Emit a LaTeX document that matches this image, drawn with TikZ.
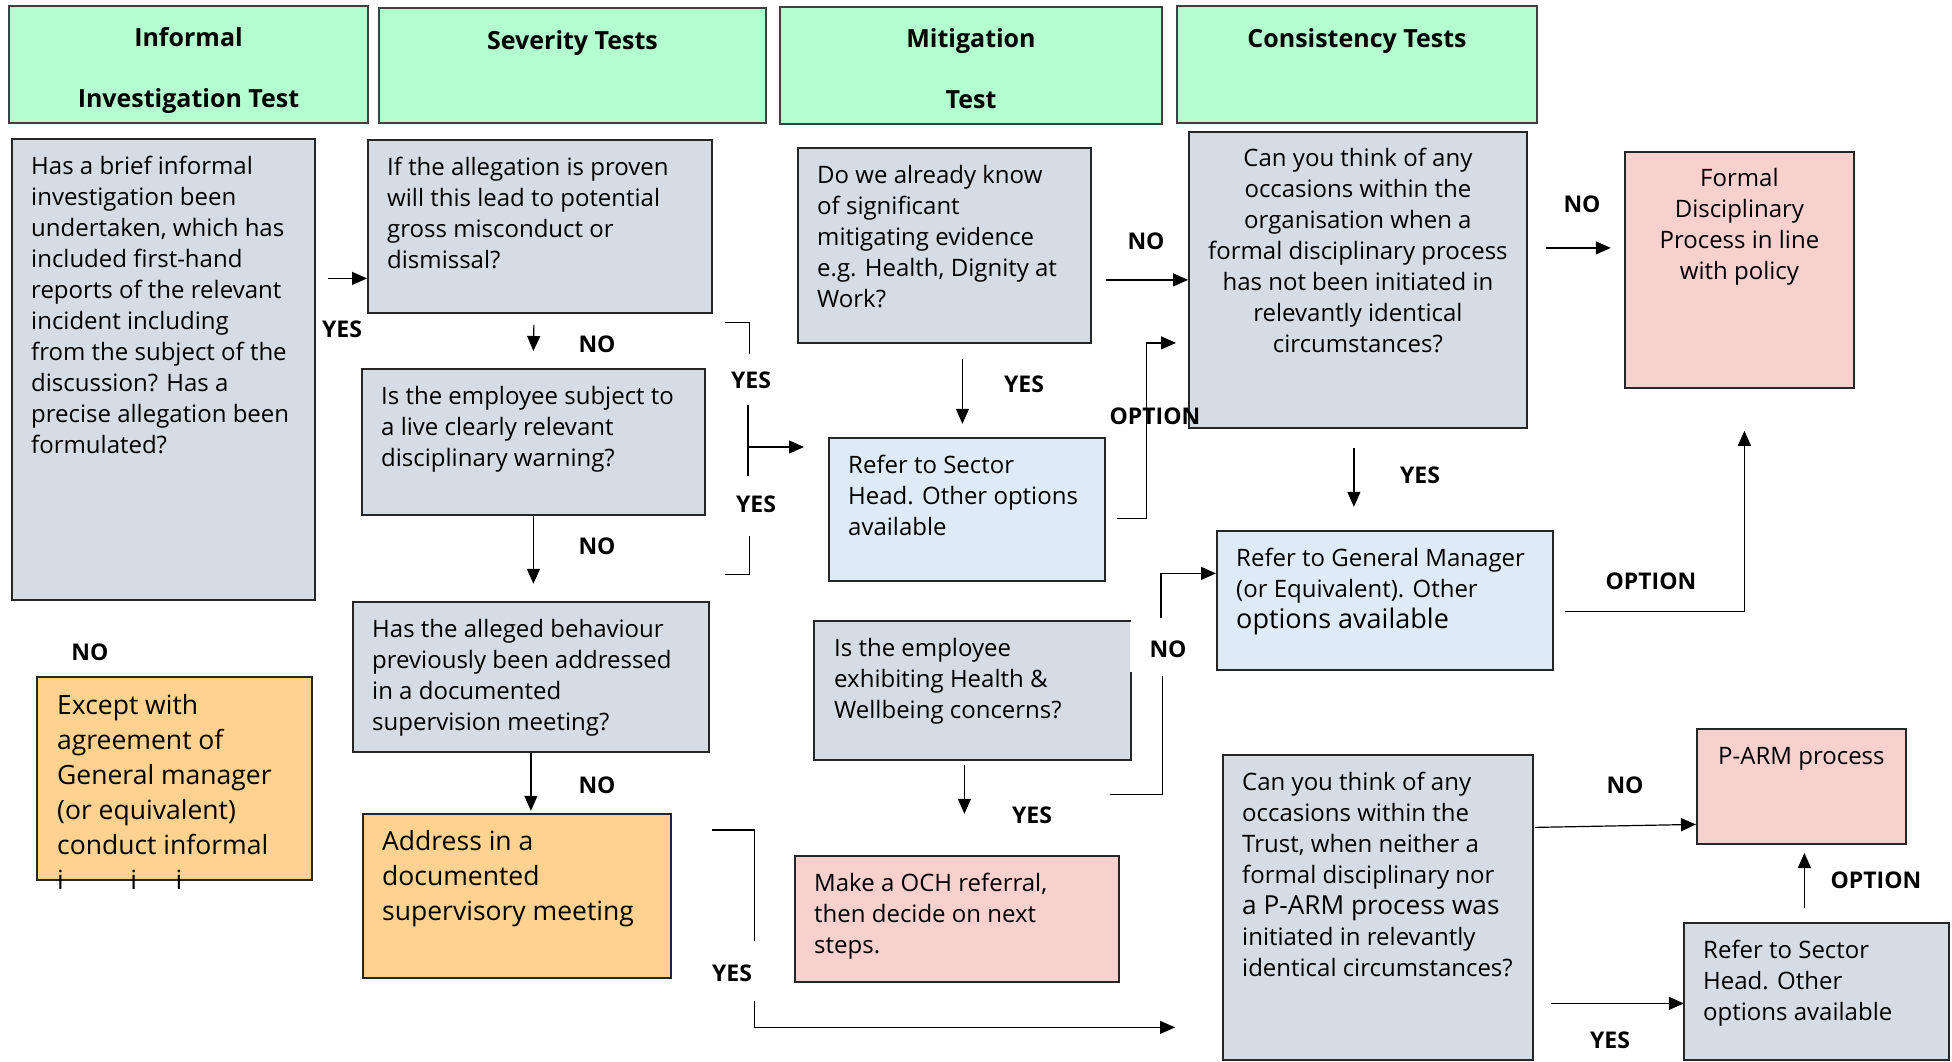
\documentclass[tikz,border=0pt]{standalone}
\usepackage{fontspec}
\setmainfont{Open Sans}
\usetikzlibrary{arrows.meta}

\definecolor{hdrgreen}{RGB}{180,255,208}
\definecolor{qgray}{RGB}{214,220,228}
\definecolor{refblue}{RGB}{222,235,247}
\definecolor{endpink}{RGB}{248,208,206}
\definecolor{actorange}{RGB}{255,210,143}

\newcommand\boxfont{\fontsize{24}{31}\selectfont}
\newcommand\bigboxfont{\fontsize{26.5}{35}\selectfont}
\newcommand\hdrfont{\fontsize{25}{61}\selectfont\bfseries}
\newcommand\lblfont{\fontsize{23}{28}\selectfont\bfseries}

\tikzset{
  box/.style={draw=black!85, line width=1.8pt, anchor=north west, inner sep=0pt},
  hdr/.style={box, fill=hdrgreen, draw=black!75, line width=2pt},
  qbox/.style={box, fill=qgray},
  rbox/.style={box, fill=refblue},
  pbox/.style={box, fill=endpink},
  obox/.style={box, fill=actorange},
  btxt/.style={anchor=north west, align=left, inner sep=0pt, font=\boxfont},
  ctxt/.style={anchor=north, align=center, inner sep=0pt, font=\boxfont},
  htxt/.style={anchor=north, align=center, inner sep=0pt, font=\hdrfont},
  lbl/.style={inner sep=0pt, font=\lblfont},
  ln/.style={line width=1.2pt},
  arr/.style={ln, -{Triangle[length=15pt,width=13pt]}}
}

\begin{document}
\begin{tikzpicture}[x=1pt,y=-1pt]
  \useasboundingbox (0,0) rectangle (1952,1062);

  % column headers
  \node[hdr, minimum width=359pt, minimum height=117pt] (h1) at (8,5) {};
  \node[hdr, minimum width=387pt, minimum height=115pt] (h2) at (378,7) {};
  \node[hdr, minimum width=382pt, minimum height=117pt] (h3) at (779,6) {};
  \node[hdr, minimum width=360pt, minimum height=117pt] (h4) at (1176,5) {};
  \node[htxt] (h1t) at ([yshift=-22pt]h1.north) {Informal\\Investigation Test};
  \node[htxt] (h2t) at ([yshift=-23pt]h2.north) {Severity Tests};
  \node[htxt] (h3t) at ([yshift=-22pt]h3.north) {Mitigation\\Test};
  \node[htxt] (h4t) at ([yshift=-23pt]h4.north) {Consistency Tests};

  % boxes
  \node[qbox, minimum width=303pt, minimum height=461pt] (b1) at (11,138) {};
  \node[qbox, minimum width=344pt, minimum height=173pt] (b2) at (367,139) {};
  \node[qbox, minimum width=343pt, minimum height=146pt] (b3) at (361,368) {};
  \node[qbox, minimum width=356pt, minimum height=150pt] (b4) at (352,601) {};
  \node[obox, minimum width=308pt, minimum height=164pt] (b5) at (362,813) {};
  \node[obox, minimum width=275pt, minimum height=203pt] (b6) at (36,676) {};
  \node[qbox, minimum width=293pt, minimum height=195pt] (b7) at (797,147) {};
  \node[rbox, minimum width=276pt, minimum height=143pt] (b8) at (828,437) {};
  \node[qbox, draw=none, minimum width=315pt, minimum height=137pt] (b9) at (814,621) {};
  \draw[draw=black!85, line width=1.8pt] ([yshift=-51pt]b9.north east) -- (b9.south east)
    -- (b9.south west) -- (b9.north west) -- (b9.north east);
  \node[qbox, minimum width=338pt, minimum height=296pt] (b10) at (1188,131) {};
  \node[pbox, minimum width=229pt, minimum height=236pt] (b11) at (1624,151) {};
  \node[rbox, minimum width=336pt, minimum height=139pt] (b12) at (1216,530) {};
  \node[pbox, minimum width=324pt, minimum height=126pt] (b13) at (794,855) {};
  \node[qbox, minimum width=310pt, minimum height=305pt] (b14) at (1222,754) {};
  \node[pbox, minimum width=209pt, minimum height=115pt] (b15) at (1696,728) {};
  \node[qbox, minimum width=265pt, minimum height=137pt] (b16) at (1683,922) {};

  % box texts
  \node[btxt] (b1t) at ([shift={(20,18)}]b1.north west) {Has a brief informal\\investigation been\\undertaken, which has\\included first-hand\\reports of the relevant\\incident including\\from the subject of the\\discussion? Has a\\precise allegation been\\formulated?};
  \node[btxt] (b2t) at ([shift={(20,18)}]b2.north west) {If the allegation is proven\\will this lead to potential\\gross misconduct or\\dismissal?};
  \node[btxt] (b3t) at ([shift={(20,18)}]b3.north west) {Is the employee subject to\\a live clearly relevant\\disciplinary warning?};
  \node[btxt] (b4t) at ([shift={(20,18)}]b4.north west) {Has the alleged behaviour\\previously been addressed\\in a documented\\supervision meeting?};
  \node[btxt, font=\bigboxfont] (b5t) at ([shift={(20,17)}]b5.north west) {Address in a\\documented\\supervisory meeting};
  \node[btxt, font=\bigboxfont] (b6t) at ([shift={(21,18)}]b6.north west) {Except with\\agreement of\\General manager\\(or equivalent)\\conduct informal\\i\phantom{nvest}i\phantom{gat}i\phantom{on}};
  \node[btxt] (b7t) at ([shift={(20,18)}]b7.north west) {Do we already know\\of significant\\mitigating evidence\\e.g. Health, Dignity at\\Work?};
  \node[btxt] (b8t) at ([shift={(20,18)}]b8.north west) {Refer to Sector\\Head. Other options\\available};
  \node[btxt] (b9t) at ([shift={(20,17)}]b9.north west) {Is the employee\\exhibiting Health \&\\Wellbeing concerns?};
  \node[ctxt] (b10t) at ([yshift=-17pt]b10.north) {Can you think of any\\occasions within the\\organisation when a\\formal disciplinary process\\has not been initiated in\\relevantly identical\\circumstances?};
  \node[ctxt] (b11t) at ([yshift=-17pt]b11.north) {Formal\\Disciplinary\\Process in line\\with policy};
  \node[btxt] (b12t) at ([shift={(20,18)}]b12.north west) {Refer to General Manager\\(or Equivalent). Other\\{\fontsize{27}{32}\selectfont options available}};
  \node[btxt] (b13t) at ([shift={(20,18)}]b13.north west) {Make a OCH referral,\\then decide on next\\steps.};
  \node[btxt] (b14t) at ([shift={(20,18)}]b14.north west) {Can you think of any\\occasions within the\\Trust, when neither a\\formal disciplinary nor\\{\fontsize{26.2}{31}\selectfont a P-ARM process was}\\initiated in relevantly\\identical circumstances?};
  \node[ctxt] (b15t) at ([yshift=-19pt]b15.north) {P-ARM process};
  \node[btxt] (b16t) at ([shift={(20,18)}]b16.north west) {Refer to Sector\\Head. Other\\options available};

  % connectors
  \draw[arr] ([shift={(12,-91)}]b1.east) -- ([yshift=-52pt]b2.west);
  \draw[arr] ([shift={(-6,11)}]b2.south) -- ([yshift=17pt]b3.north);
  \draw[arr] (b3.south) -- ++(0,68);
  \draw[arr] (b4.south) -- ++(0,58);
  \draw[ln] ([shift={(12,9)}]b2.south east) -- ++(25,0) -- ++(0,31);
  \draw[ln] ([shift={(19,59)}]b3.south east) -- ++(25,0) -- ++(0,-39);
  \coordinate (brk) at (748,447);
  \draw[ln] ([yshift=42pt]brk) -- ([yshift=-29pt]brk);
  \draw[arr] (brk) -- ++(56,0);
  \draw[arr] ([shift={(18,15)}]b7.south) -- ++(0,65);
  \draw[arr] ([xshift=-82pt]b10.west) -- (b10.west);
  \draw[arr] ([shift={(11,9)}]b8.east) -- ++(30,0) |- ([shift={(-12,63)}]b10.west);
  \draw[arr] ([shift={(18,-32)}]b10.east) -- ++(65,0);
  \draw[arr] ([shift={(-4,19)}]b10.south) -- ++(0,59);
  \draw[arr] ([shift={(11,11)}]b12.east) -| ([shift={(5,42)}]b11.south);
  \draw[ln] ([shift={(-21,35)}]b9.south east) -- ++(53,0) -- ++(0,-119);
  \draw[arr] ([shift={(-55,18)}]b12.west) |- ([yshift=27pt]b12.west);
  \draw[arr] ([shift={(-8,5)}]b9.south) -- ++(0,49);
  \draw[ln] ([shift={(40,17)}]b5.north east) -- ++(43,0) -- ++(0,111);
  \draw[arr] ([shift={(83,22)}]b5.south east) |- ([shift={(-47,120)}]b14.west);
  \draw[arr] ([shift={(1,-80)}]b14.east) -- ([yshift=-38pt]b15.west);
  \draw[arr] ([shift={(17,96)}]b14.east) -- ++(133,0);
  \draw[arr] ([shift={(-12,-14)}]b16.north) -- ++(0,-55);

  % labels
  \node[lbl] (l1) at (342,329) {YES};
  \node[lbl] (l2) at (597,344) {NO};
  \node[lbl] (l3) at (751,380) {YES};
  \node[lbl] (l4) at (756,504) {YES};
  \node[lbl] (l5) at (597,546) {NO};
  \node[lbl] (l6) at (597,785) {NO};
  \node[lbl] (l7) at (90,652) {NO};
  \node[lbl] (l8) at (732,973) {YES};
  \node[lbl] (l9) at (1146,241) {NO};
  \node[lbl] (l10) at (1024,384) {YES};
  \node[lbl] (l11) at (1155,416) {OPTION};
  \node[lbl] (l12) at (1582,204) {NO};
  \node[lbl] (l13) at (1420,475) {YES};
  \node[lbl] (l14) at (1651,581) {OPTION};
  \node[lbl] (l15) at (1168,649) {NO};
  \node[lbl] (l16) at (1032,815) {YES};
  \node[lbl] (l17) at (1625,785) {NO};
  \node[lbl] (l18) at (1610,1040) {YES};
  \node[lbl] (l19) at (1876,880) {OPTION};
\end{tikzpicture}
\end{document}
